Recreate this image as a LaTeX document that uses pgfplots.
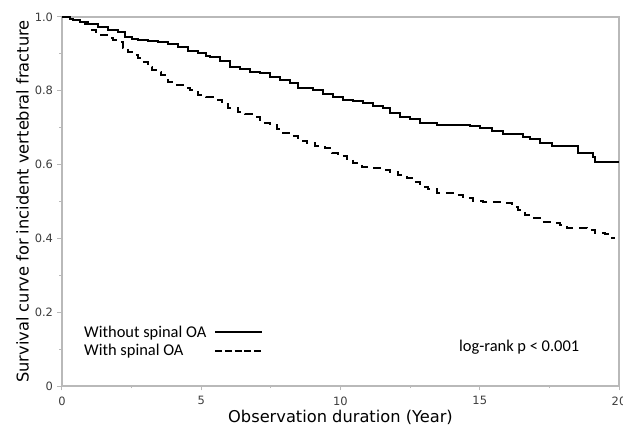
\documentclass[border=0pt]{standalone}
\usepackage{pgfplots}
\pgfplotsset{compat=1.18}
\usepackage{fontspec}
\setmainfont{DejaVu Sans}
\newfontfamily\carlito{Carlito}
\definecolor{axgray}{RGB}{185,185,185}
\definecolor{ticktext}{RGB}{60,60,60}
\begin{document}
\begin{tikzpicture}
\begin{axis}[
  name=ax,
  scale only axis,
  width=557bp, height=369bp,
  xmin=0, xmax=20, ymin=0, ymax=1,
  axis line style={axgray, line width=1.2bp},
  xtick={0,5,10,15,20}, xticklabels={0,5,10,15,20},
  ytick={0,0.2,0.4,0.6,0.8,1.0}, yticklabels={0,0.2,0.4,0.6,0.8,1.0},
  minor x tick num=1, minor y tick num=1,
  tick align=outside, tick pos=left,
  major tick length=4.5bp, minor tick length=2.5bp,
  tick style={axgray, line width=1bp},
  tick label style={font=\fontsize{11.5}{13}\selectfont, text=ticktext},
  xticklabel style={yshift=-2.5bp},
  yticklabel style={xshift=-1bp},
  xlabel={Observation duration (Year)},
  ylabel={Survival curve for incident vertebral fracture},
  label style={font=\fontsize{16.3}{19}\selectfont},
  xlabel style={yshift=2bp},
  ylabel style={yshift=-1bp},
  legend style={draw=none, fill=none, at={(axis description cs:0.036,0.072)}, anchor=south west,
    font=\carlito\fontsize{16.5}{19}\selectfont, row sep=1.5bp, inner sep=0pt},
  legend cell align=left,
  legend plot pos=right,
]
\addplot[const plot, black, line width=1.8bp,
  legend image code/.code={\path (0bp,0bp); \draw[black, line width=2.2bp] (6bp,0bp) -- (53bp,0bp);}]
coordinates {
(0,1.0)(0.29,0.9946)(0.39,0.9919)(0.65,0.9864)(0.93,0.981)(1.29,0.9729)(1.65,0.9648)
(2.01,0.9593)(2.26,0.9458)(2.51,0.940)(2.73,0.9377)(3.09,0.935)(3.45,0.9322)(3.81,0.9268)
(4.17,0.9187)(4.52,0.9079)(4.88,0.9024)(5.17,0.8943)(5.31,0.8916)(5.67,0.8808)(6.03,0.8645)
(6.39,0.8591)(6.75,0.851)(7.11,0.8482)(7.47,0.8374)(7.83,0.8293)(8.19,0.8211)(8.47,0.8076)
(9.01,0.8022)(9.37,0.7913)(9.73,0.7832)(10.09,0.7751)(10.45,0.7724)(10.81,0.7669)(11.17,0.7588)
(11.53,0.7534)(11.78,0.7398)(12.14,0.729)(12.50,0.7236)(12.85,0.7127)(13.46,0.7073)(14.65,0.7046)
(15.01,0.6992)(15.44,0.6911)(15.83,0.6829)(16.55,0.6748)(16.80,0.6694)(17.16,0.6585)(17.59,0.6504)
(18.53,0.6314)(19.07,0.6206)(19.14,0.6070)(20.0,0.6070)
};
\addlegendentry{Without spinal OA}
\addplot[const plot, black, line width=1.8bp, dash pattern=on 8bp off 6bp,
  legend image code/.code={\path (0bp,0bp); \draw[black, line width=2.2bp, dash pattern=on 7bp off 2.7bp] (6bp,0bp) -- (53bp,0bp);}]
coordinates {
(0,1.0)(0.287,0.9946)(0.395,0.9919)(0.646,0.9864)(0.826,0.9810)(1.041,0.9648)(1.221,0.9593)
(1.400,0.9512)(1.652,0.9431)(1.831,0.9377)(2.011,0.9322)(2.190,0.9160)(2.370,0.9051)(2.549,0.8970)
(2.729,0.8889)(2.837,0.8780)(3.088,0.8645)(3.232,0.8564)(3.375,0.8509)(3.555,0.8428)(3.698,0.8293)
(3.806,0.8238)(4.057,0.8157)(4.345,0.8076)(4.596,0.8022)(4.883,0.7886)(5.171,0.7832)(5.422,0.7751)
(5.745,0.7642)(5.961,0.7534)(6.320,0.7425)(6.571,0.7371)(6.930,0.7290)(7.110,0.7127)(7.469,0.7073)
(7.720,0.6965)(7.935,0.6856)(8.259,0.6775)(8.474,0.6640)(8.797,0.6585)(9.084,0.6504)(9.443,0.6450)
(9.695,0.6314)(9.910,0.6233)(10.233,0.6152)(10.449,0.6043)(10.772,0.5935)(11.131,0.5908)(11.490,0.5854)
(11.777,0.5799)(12.065,0.5718)(12.388,0.5637)(12.639,0.5528)(12.855,0.5393)(13.142,0.5339)(13.465,0.5230)
(14.111,0.5176)(14.399,0.5095)(14.758,0.5014)(15.117,0.4986)(15.907,0.4959)(16.158,0.4851)(16.373,0.4770)
(16.625,0.4634)(16.876,0.4553)(17.235,0.4444)(17.522,0.4417)(17.881,0.4363)(18.133,0.4282)(18.851,0.4228)
(19.138,0.4146)(19.497,0.4119)(19.749,0.4011)(19.856,0.4011)
};
\addlegendentry{With spinal OA}
\node[font=\carlito\fontsize{16.5}{19}\selectfont, anchor=west, inner sep=0pt] at (axis description cs:0.7127,0.1057) {log-rank p < 0.001};
\end{axis}
\pgfresetboundingbox
\useasboundingbox (ax.south west) ++(-62bp,-46bp) rectangle ++(623bp,432bp);
\end{tikzpicture}
\end{document}
